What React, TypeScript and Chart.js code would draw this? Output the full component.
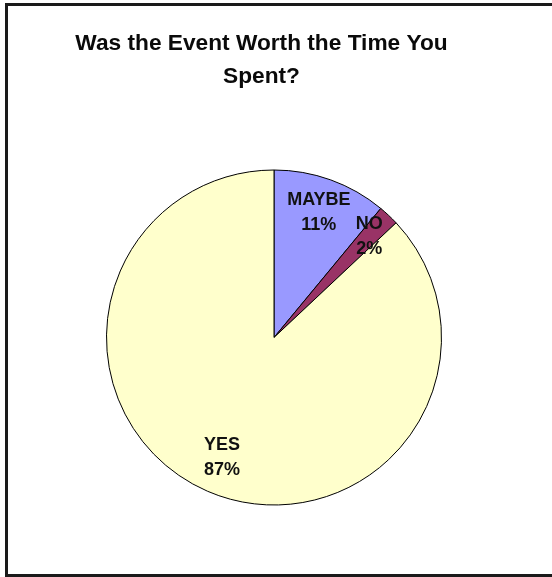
import React, { useEffect, useRef } from "react";
import { Chart, registerables } from "chart.js";

Chart.register(...registerables);

const categories: string[] = ["MAYBE", "NO", "YES"];
const values: number[] = [11, 2, 87];
const sliceColors: string[] = ["#9999FF", "#993366", "#FFFFCC"];
const titleLines: string[] = ["Was the Event Worth the Time You", "Spent?"];

const FONT = "'Liberation Sans', Arial, Helvetica, sans-serif";

const titlePlugin = {
  id: "titleText",
  afterDraw(chart: any) {
    const ctx = chart.ctx;
    ctx.save();
    ctx.font = `bold 22.7px ${FONT}`;
    ctx.fillStyle = "#0a0a0a";
    ctx.textAlign = "center";
    ctx.textBaseline = "alphabetic";
    titleLines.forEach((line, i) => {
      ctx.fillText(line, 261.5, 50 + i * 33);
    });
    ctx.restore();
  },
};

const sliceLabels = {
  id: "sliceLabels",
  afterDatasetsDraw(chart: any) {
    const ctx = chart.ctx;
    const meta = chart.getDatasetMeta(0);
    const fracs = [0.79, 0.83, 0.78];
    ctx.save();
    ctx.font = `bold 18px ${FONT}`;
    ctx.fillStyle = "#111111";
    ctx.textAlign = "center";
    ctx.textBaseline = "middle";
    meta.data.forEach((arc: any, i: number) => {
      const p = arc.getProps(["x", "y", "startAngle", "endAngle", "outerRadius"], true);
      const mid = (p.startAngle + p.endAngle) / 2;
      const r = p.outerRadius * fracs[i];
      const x = p.x + Math.cos(mid) * r;
      const y = p.y + Math.sin(mid) * r;
      ctx.fillText(categories[i], x, y - 12.5);
      ctx.fillText(`${values[i]}%`, x, y + 12.5);
    });
    ctx.restore();
  },
};

export default function App() {
  const ref = useRef<HTMLCanvasElement | null>(null);

  useEffect(() => {
    if (!ref.current) return;
    const chart = new Chart(ref.current, {
      type: "pie",
      data: {
        labels: categories,
        datasets: [
          {
            data: values,
            backgroundColor: sliceColors,
            borderColor: "#000000",
            borderWidth: 1,
          },
        ],
      },
      options: {
        responsive: false,
        animation: false,
        radius: 167.5,
        layout: { padding: { top: 100, left: 0, right: 4, bottom: 2 } },
        plugins: {
          legend: { display: false },
          tooltip: { enabled: false },
          title: { display: false },
        },
      } as any,
      plugins: [sliceLabels, titlePlugin],
    });
    return () => chart.destroy();
  }, []);

  return (
    <div
      style={{
        position: "absolute",
        left: 0,
        top: 0,
        width: 552,
        height: 577,
        overflow: "hidden",
        background: "#ffffff",
      }}
    >
      <div
        style={{
          position: "absolute",
          left: 5,
          top: 3,
          width: 600,
          height: 574,
          border: "3px solid #1a1a1a",
          boxSizing: "border-box",
        }}
      />
      <canvas
        ref={ref}
        width={552}
        height={577}
        style={{ position: "absolute", left: 0, top: 0, display: "block" }}
      />
    </div>
  );
}
